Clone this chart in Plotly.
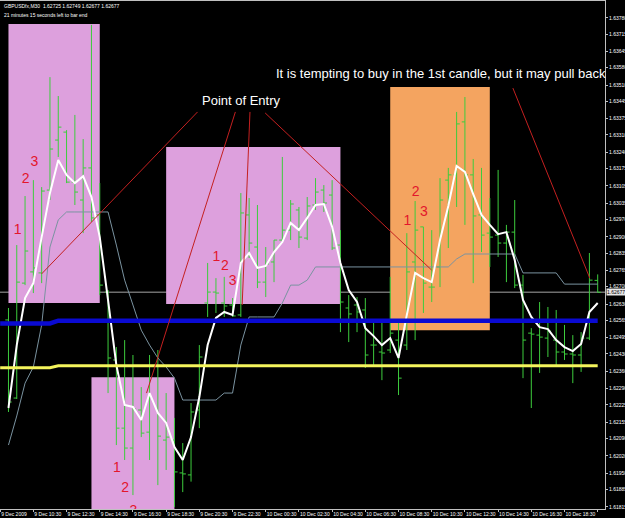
import plotly.graph_objects as go

# ---------------- data ----------------
bar_index = list(range(72))  # 9 Dec 09:00 ... 10 Dec 20:30, M30 bars

opens = [
    1.62566, 1.62252, 1.62714, 1.62759, 1.62755, 1.63088, 1.63289, 1.63321, 1.63120, 1.63048,
    1.63177, 1.62988, 1.62678, 1.62405, 1.62131, 1.62051, 1.62204, 1.62115, 1.62381, 1.62083,
    1.62083, 1.61951, 1.61943, 1.62204, 1.62634, 1.62678, 1.62634, 1.62626, 1.62586, 1.62988,
    1.62859, 1.62718, 1.62799, 1.62887, 1.62927, 1.63008, 1.62895, 1.63028, 1.63088, 1.63068,
    1.62867, 1.62614, 1.62626, 1.62606, 1.62465, 1.62437, 1.62445, 1.62485, 1.62465, 1.62799,
    1.62940, 1.62698, 1.62779, 1.63128, 1.63149, 1.63362, 1.63149, 1.62988, 1.62915, 1.62907,
    1.62875, 1.62919, 1.62706, 1.62513, 1.62505, 1.62493, 1.62485, 1.62437, 1.62429, 1.62425,
    1.62493, 1.62725]
highs = [
    1.62614, 1.62867, 1.63064, 1.63128, 1.63100, 1.63542, 1.63466, 1.63329, 1.63390, 1.63293,
    1.63752, 1.63116, 1.62686, 1.62457, 1.62485, 1.62425, 1.62296, 1.62425, 1.62445, 1.62272,
    1.62172, 1.62071, 1.62232, 1.62465, 1.62795, 1.62734, 1.62739, 1.62654, 1.63076, 1.63056,
    1.63028, 1.62859, 1.62887, 1.63221, 1.63048, 1.63020, 1.63060, 1.63136, 1.63108, 1.63128,
    1.62927, 1.62666, 1.62658, 1.62654, 1.62554, 1.62554, 1.62739, 1.62554, 1.62915, 1.63044,
    1.62940, 1.62927, 1.63136, 1.63177, 1.63402, 1.63462, 1.63213, 1.63177, 1.63056, 1.63169,
    1.62948, 1.63048, 1.62747, 1.62533, 1.62638, 1.62618, 1.62606, 1.62546, 1.62505, 1.62517,
    1.62835, 1.62749]
lows = [
    1.62196, 1.62248, 1.62706, 1.62674, 1.62714, 1.63048, 1.63221, 1.63116, 1.63028, 1.62915,
    1.62960, 1.62666, 1.62272, 1.62063, 1.62003, 1.61862, 1.62095, 1.62003, 1.61902, 1.61963,
    1.61814, 1.61874, 1.61916, 1.62131, 1.62578, 1.62594, 1.62578, 1.62578, 1.62578, 1.62815,
    1.62694, 1.62658, 1.62718, 1.62875, 1.62887, 1.62855, 1.62887, 1.63008, 1.63000, 1.62847,
    1.62517, 1.62477, 1.62517, 1.62373, 1.62385, 1.62324, 1.62433, 1.62264, 1.62445, 1.62485,
    1.62594, 1.62638, 1.62698, 1.62855, 1.63020, 1.62948, 1.62714, 1.62839, 1.62779, 1.62819,
    1.62718, 1.62694, 1.62332, 1.62212, 1.62353, 1.62417, 1.62385, 1.62405, 1.62312, 1.62357,
    1.62485, 1.62677]
closes = [
    1.62236, 1.62718, 1.62843, 1.62775, 1.63084, 1.63253, 1.63341, 1.63120, 1.63080, 1.63177,
    1.62976, 1.62706, 1.62413, 1.62131, 1.62051, 1.62208, 1.62111, 1.62381, 1.62099, 1.62095,
    1.61955, 1.61947, 1.62196, 1.62417, 1.62678, 1.62674, 1.62622, 1.62582, 1.62996, 1.62875,
    1.62718, 1.62791, 1.62887, 1.62927, 1.63032, 1.62899, 1.63024, 1.63080, 1.63036, 1.62855,
    1.62638, 1.62590, 1.62598, 1.62425, 1.62465, 1.62433, 1.62513, 1.62332, 1.62759, 1.62927,
    1.62714, 1.62698, 1.63048, 1.63149, 1.63354, 1.63149, 1.62984, 1.62907, 1.62899, 1.62875,
    1.62919, 1.62706, 1.62485, 1.62509, 1.62497, 1.62521, 1.62437, 1.62429, 1.62425, 1.62493,
    1.62726, 1.62677]

# fast moving average (white line)
ma_fast = [
    1.62212, 1.62465, 1.62654, 1.62714, 1.62899, 1.63076, 1.63209, 1.63149, 1.63116, 1.63144,
    1.63060, 1.62899, 1.62646, 1.62385, 1.62224, 1.62216, 1.62164, 1.62272, 1.62192, 1.62152,
    1.62055, 1.62003, 1.62095, 1.62256, 1.62465, 1.62574, 1.62598, 1.62586, 1.62795, 1.62835,
    1.62775, 1.62783, 1.62839, 1.62879, 1.62956, 1.62927, 1.62976, 1.63028, 1.63032, 1.62940,
    1.62795, 1.62686, 1.62638, 1.62533, 1.62501, 1.62465, 1.62493, 1.62413, 1.62586, 1.62755,
    1.62734, 1.62718, 1.62887, 1.63024, 1.63185, 1.63161, 1.63072, 1.62988, 1.62948, 1.62911,
    1.62919, 1.62807, 1.62646, 1.62578, 1.62537, 1.62529, 1.62485, 1.62457, 1.62441, 1.62469,
    1.62598, 1.62634]

# stepped trailing line (grey-blue)
trail = [
    1.62063, 1.62180, 1.62312, 1.62377, 1.62546, 1.62859, 1.62968, 1.63000, 1.63000, 1.63000,
    1.63000, 1.63000, 1.63000, 1.62867, 1.62726, 1.62626, 1.62525, 1.62465, 1.62413, 1.62377,
    1.62332, 1.62244, 1.62244, 1.62244, 1.62244, 1.62244, 1.62272, 1.62272, 1.62465, 1.62578,
    1.62578, 1.62578, 1.62578, 1.62634, 1.62706, 1.62706, 1.62726, 1.62779, 1.62779, 1.62779,
    1.62779, 1.62779, 1.62779, 1.62779, 1.62779, 1.62779, 1.62779, 1.62779, 1.62779, 1.62779,
    1.62779, 1.62779, 1.62779, 1.62779, 1.62811, 1.62831, 1.62831, 1.62831, 1.62831, 1.62831,
    1.62831, 1.62831, 1.62755, 1.62755, 1.62755, 1.62755, 1.62755, 1.62710, 1.62710, 1.62710,
    1.62710, 1.62710]

# level lines (blue and yellow), bar -1 .. 71
level_index = list(range(-1, 72))
blue_level = [1.62552] * 7 + [1.62563] * 66
yellow_level = [1.62374] * 7 + [1.62382] * 66

current_price = 1.62677

# x-axis time labels (every 4 bars)
time_ticks = list(range(-1, 72, 4))
time_labels = ["9 Dec 2009", "9 Dec 10:30", "9 Dec 12:30", "9 Dec 14:30", "9 Dec 16:30",
               "9 Dec 18:30", "9 Dec 20:30", "9 Dec 22:30", "10 Dec 00:30", "10 Dec 02:30",
               "10 Dec 04:30", "10 Dec 06:30", "10 Dec 08:30", "10 Dec 10:30", "10 Dec 12:30",
               "10 Dec 14:30", "10 Dec 16:30", "10 Dec 18:30", "10 Dec 20:30"]

# price axis labels
price_ticks = [1.63780, 1.63715, 1.63645, 1.63580, 1.63510, 1.63445, 1.63375, 1.63310, 1.63240,
               1.63175, 1.63105, 1.63035, 1.62970, 1.62900, 1.62835, 1.62765, 1.62700, 1.62630,
               1.62565, 1.62495, 1.62430, 1.62360, 1.62290, 1.62225, 1.62155, 1.62090, 1.62020,
               1.61950, 1.61885, 1.61815]

# numbered candle labels
num_text = ["1", "2", "3", "1", "2", "3", "1", "2", "3", "1", "2", "3"]
num_x = [1.1, 2.06, 3.14, 13.06, 14.07, 15.04, 25.07, 26.07, 27.0, 48.06, 49.05, 50.05]
num_y = [1.62927, 1.63132, 1.63197, 1.61967, 1.61890, 1.61794,
         1.62815, 1.62779, 1.62722, 1.62960, 1.63080, 1.62996]

# highlighted zones: (first bar, last bar, top price, bottom price, colour)
zones = [
    (0, 11, 1.63756, 1.62634, "#DDA0DD"),
    (10, 20, 1.62336, 1.61700, "#DDA0DD"),
    (19, 40, 1.63261, 1.62630, "#DDA0DD"),
    (46, 58, 1.63502, 1.62525, "#F4A460"),
]

# drawn trend lines (bar, price) -> (bar, price)
trend_lines = [
    (22.78, 1.63402, 3.99, 1.62751),
    (27.34, 1.63402, 16.64, 1.62272),
    (29.10, 1.63402, 28.16, 1.62626),
    (30.93, 1.63398, 50.97, 1.62767),
    (60.78, 1.63498, 70.05, 1.62734),
]

GREEN = "#3dcc3d"
FONT = "Liberation Sans, Arial, sans-serif"

fig = go.Figure()

fig.add_trace(go.Ohlc(
    x=bar_index, open=opens, high=highs, low=lows, close=closes,
    increasing=dict(line=dict(color=GREEN, width=1)),
    decreasing=dict(line=dict(color=GREEN, width=1)),
    tickwidth=0.38, hoverinfo="skip", showlegend=False,
))

fig.add_trace(go.Scatter(x=bar_index, y=trail, mode="lines",
                         line=dict(color="#7a93a0", width=1), hoverinfo="skip"))
fig.add_trace(go.Scatter(x=bar_index, y=ma_fast, mode="lines",
                         line=dict(color="white", width=2), hoverinfo="skip"))
fig.add_trace(go.Scatter(x=level_index, y=blue_level, mode="lines",
                         line=dict(color="#0a0ad2", width=4.5), hoverinfo="skip"))
fig.add_trace(go.Scatter(x=level_index, y=yellow_level, mode="lines",
                         line=dict(color="#f4f45c", width=3), hoverinfo="skip"))
fig.add_trace(go.Scatter(x=num_x, y=num_y, mode="text", text=num_text,
                         textposition="middle center", cliponaxis=True,
                         textfont=dict(family=FONT, size=14, color="#e3162c"),
                         hoverinfo="skip"))

shapes = []
for x0, x1, top, bottom, col in zones:
    shapes.append(dict(type="rect", xref="x", yref="y", x0=x0, x1=x1, y0=bottom, y1=top,
                       fillcolor=col, line=dict(width=0), layer="below"))
shapes.append(dict(type="line", xref="paper", yref="y", x0=0, x1=1,
                   y0=current_price, y1=current_price,
                   line=dict(color="#6e6e6e", width=1.5), layer="below"))
for xa, ya, xb, yb in trend_lines:
    shapes.append(dict(type="line", xref="x", yref="y", x0=xa, y0=ya, x1=xb, y1=yb,
                       line=dict(color="#c42020", width=1), layer="above"))

annotations = [
    dict(text="Point of Entry", xref="x", yref="y", x=28.08, y=1.63450,
         xanchor="center", yanchor="middle", showarrow=False,
         font=dict(family=FONT, size=13, color="white")),
    dict(text="It is tempting to buy in the 1st candle, but it may pull back",
         xref="x", yref="y", x=31.94, y=1.63555, xanchor="left", yanchor="middle",
         showarrow=False, font=dict(family=FONT, size=13, color="white")),
    dict(text="GBPUSDfx,M30  1.62725 1.62749 1.62677 1.62677", xref="paper", yref="paper",
         x=0.004, y=0.990, xanchor="left", yanchor="middle", showarrow=False,
         font=dict(family=FONT, size=5, color="white")),
    dict(text="21 minutes 15 seconds left to bar end", xref="paper", yref="paper",
         x=0.004, y=0.973, xanchor="left", yanchor="middle", showarrow=False,
         font=dict(family=FONT, size=5, color="white")),
    dict(text="1.62677", xref="paper", yref="y", x=1, y=current_price, xshift=1,
         xanchor="left", yanchor="middle", showarrow=False, bgcolor="#e6e6e6",
         borderpad=0, font=dict(family=FONT, size=5, color="black")),
]

fig.update_layout(
    width=625, height=518,
    margin=dict(l=0, r=20, t=1, b=9),
    paper_bgcolor="black", plot_bgcolor="black",
    showlegend=False,
    shapes=shapes, annotations=annotations,
    xaxis=dict(range=[-1.02, 71.88], showgrid=False, zeroline=False,
               tickvals=time_ticks, ticktext=time_labels, tickangle=0,
               ticks="outside", ticklen=2, tickcolor="#c0c0c0",
               ticklabelposition="outside right", automargin=False,
               tickfont=dict(family=FONT, size=5, color="white"),
               showline=True, linecolor="#c0c0c0", linewidth=1, mirror=True,
               rangeslider=dict(visible=False), fixedrange=True),
    yaxis=dict(range=[1.61806, 1.63848], side="right", showgrid=False, zeroline=False,
               tickvals=price_ticks, ticktext=["%.5f" % v for v in price_ticks],
               ticks="outside", ticklen=2, tickcolor="#c0c0c0", automargin=False,
               ticklabelstandoff=0,
               tickfont=dict(family=FONT, size=5, color="white"),
               showline=True, linecolor="#c0c0c0", linewidth=1, fixedrange=True),
)

fig.write_html("out.html")
